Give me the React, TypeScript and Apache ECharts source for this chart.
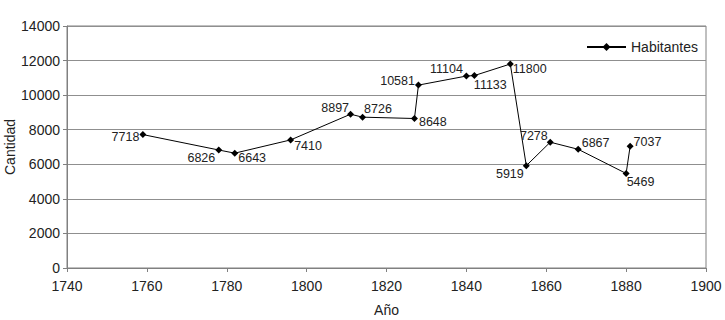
import React, { useEffect, useRef } from "react";
import * as echarts from "echarts";

const years = [1759, 1778, 1782, 1796, 1811, 1814, 1827, 1828, 1840, 1842, 1851, 1855, 1861, 1868, 1880, 1881];
const habitantes = [7718, 6826, 6643, 7410, 8897, 8726, 8648, 10581, 11104, 11133, 11800, 5919, 7278, 6867, 5469, 7037];
const seriesName = "Habitantes";
const xAxisName = "Año";
const yAxisName = "Cantidad";

// label placement per point: side, dx, dy (style only)
const labelSides = ["left", "left", "right", "right", "left", "right", "right", "left", "left", "right", "right", "left", "left", "right", "right", "right"];
const labelDx = [0, 0, 0, 0, 2, -2, 1, 0, 0, -4, -1, 1, 1, 0, -3, 0];
const labelDy = [2, 8, 5, 6, -6, -8, 3, -4, -7, 9, 5, 8, -6, -6, 9, -4];

const FONT = "'Liberation Sans', Arial, sans-serif";

export default function App() {
  const ref = useRef<HTMLDivElement>(null);
  useEffect(() => {
    if (!ref.current) return;
    const chart = echarts.init(ref.current, undefined, { renderer: "svg" });
    const data = years.map((y, i) => ({
      value: [y, habitantes[i]],
      label: {
        position: labelSides[i],
        distance: 0,
        offset: [labelDx[i], labelDy[i]],
      },
    }));
    chart.setOption({
      animation: false,
      backgroundColor: "#ffffff",
      textStyle: { fontFamily: FONT },
      grid: {
        left: 67,
        right: 19,
        top: 26,
        bottom: 52,
        containLabel: false,
        outerBoundsMode: "none",
        show: true,
        borderColor: "#808080",
        borderWidth: 1,
        backgroundColor: "transparent",
      },
      legend: {
        left: 586,
        top: 40,
        padding: 0,
        itemWidth: 39,
        itemHeight: 10,
        itemGap: 4,
        textStyle: { fontSize: 14, color: "#222", fontFamily: FONT },
        data: [seriesName],
      },
      xAxis: {
        type: "value",
        min: 1740,
        max: 1900,
        interval: 20,
        name: xAxisName,
        nameLocation: "middle",
        nameGap: 35,
        nameMoveOverlap: false,
        nameTextStyle: { fontSize: 14, color: "#222", fontFamily: FONT },
        axisLine: { show: true, lineStyle: { color: "#808080" } },
        axisTick: { show: true, length: 4, inside: false, lineStyle: { color: "#808080" } },
        axisLabel: { fontSize: 14, color: "#222", margin: 11, fontFamily: FONT, formatter: (v: number) => String(v) },
        splitLine: { show: false },
      },
      yAxis: {
        type: "value",
        min: 0,
        max: 14000,
        interval: 2000,
        name: yAxisName,
        nameLocation: "middle",
        nameGap: 50,
        nameMoveOverlap: false,
        nameRotate: 90,
        nameTextStyle: { fontSize: 14, color: "#222", fontFamily: FONT },
        axisLine: { show: true, lineStyle: { color: "#808080" } },
        axisTick: { show: true, length: 4, lineStyle: { color: "#808080" } },
        axisLabel: { fontSize: 14, color: "#222", margin: 7, fontFamily: FONT, formatter: (v: number) => String(v) },
        splitLine: { show: true, lineStyle: { color: "#8f8f8f", width: 1 } },
      },
      series: [
        {
          name: seriesName,
          type: "line",
          data,
          symbol: "diamond",
          symbolSize: 7,
          showAllSymbol: true,
          lineStyle: { color: "#000", width: 1 },
          itemStyle: { color: "#000" },
          label: {
            show: true,
            fontSize: 12.5,
            color: "#222",
            fontFamily: FONT,
            formatter: (p: any) => String(p.value[1]),
          },
        },
      ],
    });
    return () => chart.dispose();
  }, []);
  return <div ref={ref} style={{ width: 725, height: 320, position: "absolute", left: 0, top: 0 }} />;
}
